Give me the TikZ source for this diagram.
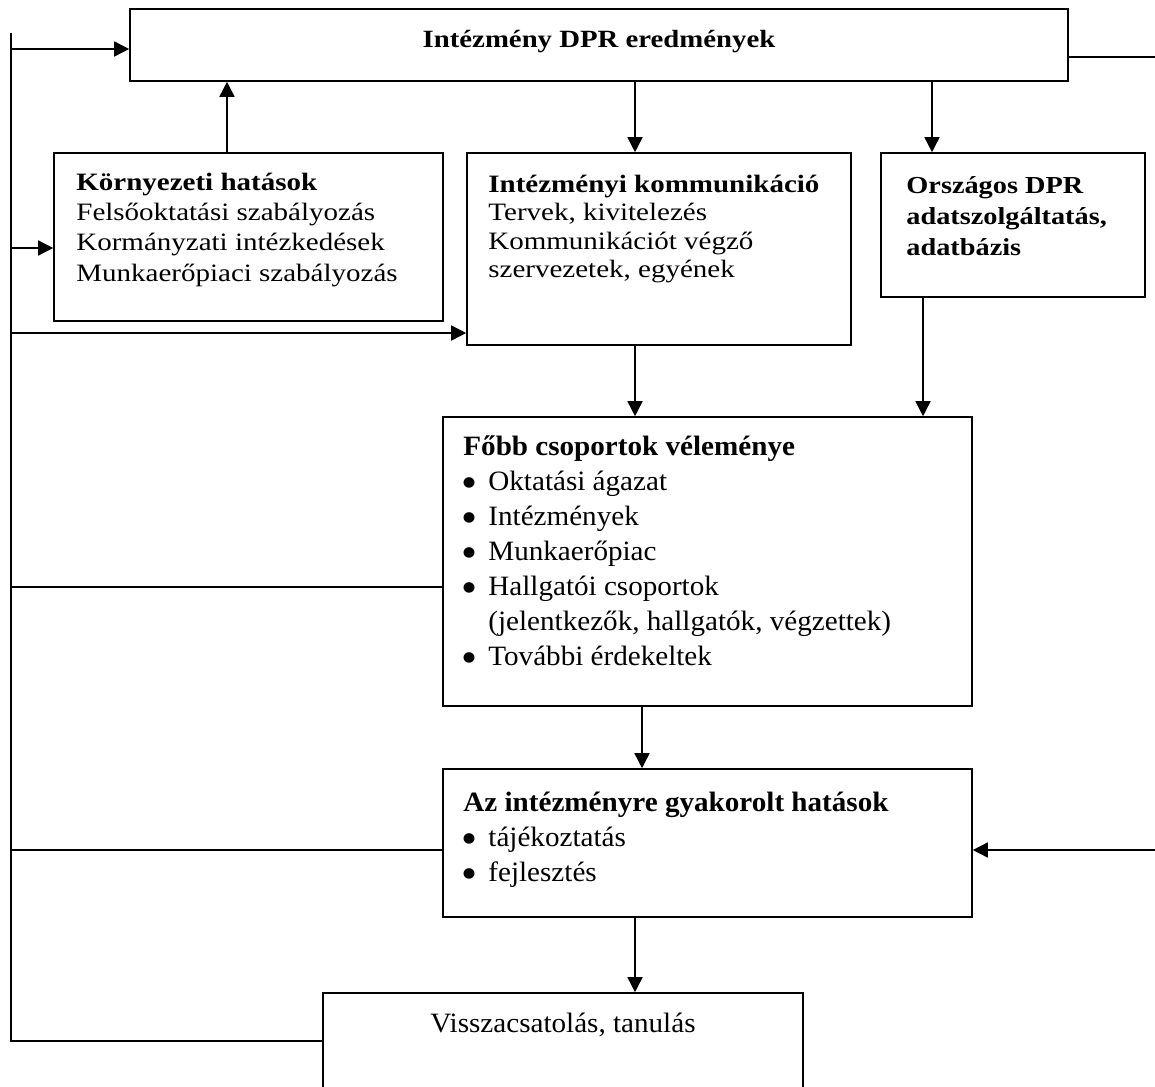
\documentclass[tikz,border=0pt]{standalone}
\usepackage{fontspec}
\setmainfont{Liberation Serif}
\newfontfamily\fI[FakeStretch=1.16]{Liberation Serif}
\newfontfamily\fF[FakeStretch=1.04]{Liberation Serif}
\usetikzlibrary{arrows.meta,fit}
\newcommand\tl[1]{\begin{tabular}[t]{@{}l@{}}#1\end{tabular}}
\newcommand\bul{\makebox[12.5pt][l]{\hspace{-0.9pt}\smash{\raisebox{-3.6pt}{\fontsize{22}{0}\selectfont •}}}}
\tikzset{
  box/.style={draw, line width=0.8pt, inner sep=0pt},
  txt/.style={anchor=base west, inner sep=0pt},
  arr/.style={line width=0.8pt, -{Triangle[length=7.5pt,width=7.5pt]}},
  ln/.style={line width=0.8pt},
}
\begin{document}
\begin{tikzpicture}[x=0.5pt,y=-0.5pt]
\useasboundingbox (0,0) rectangle (1155,1086);
\clip (0,0) rectangle (1155,1086);
\fill[white] (0,0) rectangle (1155,1086);

% boxes
\node[box, fit={(130,9) (1068,81)}] (top) {};
\node[box, fit={(54,153) (443,321)}] (korny) {};
\node[box, fit={(467,153) (851,345)}] (intk) {};
\node[box, fit={(881,153) (1145,297)}] (orsz) {};
\node[box, fit={(443,417) (972,706)}] (fobb) {};
\node[box, fit={(443,769) (972,917)}] (hatas) {};
\node[box, fit={(323,993) (803,1130)}] (vissza) {};

% texts
\node[inner sep=0pt, anchor=base, font=\fI\fontsize{12.4}{14}\selectfont\bfseries] (topT) at (599,48) {Intézmény DPR eredmények};
\node[txt, font=\fI\fontsize{12.5}{15.2}\selectfont] (kornyT) at (76,190)
  {\tl{\textbf{Környezeti hatások}\\Felsőoktatási szabályozás\\Kormányzati intézkedések\\Munkaerőpiaci szabályozás}};
\node[txt, font=\fI\fontsize{12.5}{14.25}\selectfont] (intkT) at (488,192)
  {\tl{\textbf{Intézményi kommunikáció}\\Tervek, kivitelezés\\Kommunikációt végző\\szervezetek, egyének}};
\node[txt, font=\fI\fontsize{12.2}{15.5}\selectfont\bfseries] (orszT) at (906,193)
  {\tl{Országos DPR\\adatszolgáltatás,\\adatbázis}};
\node[txt, font=\fF\fontsize{14}{17.5}\selectfont] (fobbT) at (463,455)
  {\tl{\textbf{Főbb csoportok véleménye}\\\bul Oktatási ágazat\\\bul Intézmények\\\bul Munkaerőpiac\\\bul Hallgatói csoportok\\\hspace{12.5pt}(jelentkezők, hallgatók, végzettek)\\\bul További érdekeltek}};
\node[txt, font=\fF\fontsize{14}{17.5}\selectfont] (hatasT) at (463,811)
  {\tl{\textbf{Az intézményre gyakorolt hatások}\\\bul tájékoztatás\\\bul fejlesztés}};
\node[inner sep=0pt, anchor=base, font=\fF\fontsize{14}{17.5}\selectfont] (visszaT) at (563,1032) {Visszacsatolás, tanulás};

% coordinates
\coordinate (busTop) at (11,33);
\coordinate (busBot) at (11,1041);
\coordinate (b1) at (11,49);
\coordinate (b2) at (11,248);
\coordinate (b3) at (11,333);
\coordinate (b4) at (11,587);
\coordinate (b5) at (11,850);
\coordinate (rTop) at (1155,57);
\coordinate (rIn) at (1155,850);
\coordinate (xa) at (227,0);
\coordinate (xb) at (635,0);
\coordinate (xc) at (932,0);
\coordinate (xd) at (923,0);
\coordinate (xe) at (642,0);

% left feedback bus
\draw[ln] (busTop) -- (busBot) -- (busBot -| vissza.west);
\draw[arr] (b1) -- (b1 -| top.west);
\draw[arr] (b2) -- (b2 -| korny.west);
\draw[arr] (b3) -- (b3 -| intk.west);
\draw[ln] (b4) -- (b4 -| fobb.west);
\draw[ln] (b5) -- (b5 -| hatas.west);

% right side
\draw[ln] (top.east |- rTop) -- (rTop);
\draw[arr] (rIn) -- (rIn -| hatas.east);

% vertical arrows
\draw[arr] (xa |- korny.north) -- (xa |- top.south);
\draw[arr] (xb |- top.south) -- (xb |- intk.north);
\draw[arr] (xc |- top.south) -- (xc |- orsz.north);
\draw[arr] (xb |- intk.south) -- (xb |- fobb.north);
\draw[arr] (xd |- orsz.south) -- (xd |- fobb.north);
\draw[arr] (xe |- fobb.south) -- (xe |- hatas.north);
\draw[arr] (xb |- hatas.south) -- (xb |- vissza.north);
\end{tikzpicture}
\end{document}
